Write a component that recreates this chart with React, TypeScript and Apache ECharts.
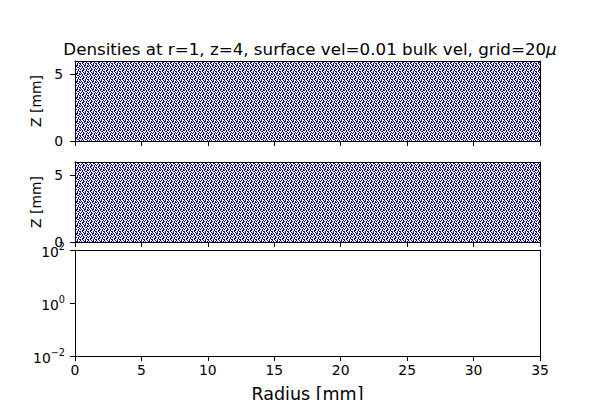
import React, { useEffect, useRef } from 'react';
import * as echarts from 'echarts';

// field extent (radius in mm, Z in mm)
const radiusSpan = [0, 35];
const fieldTop = [6, 6];
const zRange = [0, 6];
const logRange = [0.01, 100];
const radiusTicks = { min: 0, max: 35, interval: 5 };

// dither used to paint the dense vector field (style only)
const DOT_ROWS = [
  '#..#.#..',
  '.#..##.#',
  '#.#.#..#',
  '..#..##.',
  '.#.#...#',
  '#..##.#.',
  '..##..#.',
  '#.#..#.#',
];

const NAVY = '#00008b';
const FONT = 'DejaVu Sans';

function makeDots(): HTMLCanvasElement {
  const c = document.createElement('canvas');
  c.width = DOT_ROWS[0].length;
  c.height = DOT_ROWS.length;
  const ctx = c.getContext('2d')!;
  ctx.fillStyle = '#ffffff';
  ctx.fillRect(0, 0, c.width, c.height);
  ctx.fillStyle = NAVY;
  DOT_ROWS.forEach((row, y) => {
    for (let x = 0; x < row.length; x++) {
      if (row[x] === '#') ctx.fillRect(x, y, 1, 1);
    }
  });
  return c;
}

const supLabel = (v: number) => {
  const e = Math.round(Math.log10(v));
  return `{b|10}{s|${e < 0 ? '\u2212' + Math.abs(e) : e}}`;
};

const App: React.FC = () => {
  const chartRef = useRef<HTMLDivElement | null>(null);

  useEffect(() => {
    const chart = echarts.init(chartRef.current!, undefined, { renderer: 'svg' });
    const dots = makeDots();

    const grids = [
      { left: 75, right: 60, top: 61, height: 80 },
      { left: 75, right: 60, top: 162, height: 80 },
      { left: 75, right: 60, top: 250, height: 106 },
    ];

    const xAxes: any[] = [];
    const yAxes: any[] = [];
    grids.forEach((_, i) => {
      const last = i === 2;
      xAxes.push({
        type: 'value',
        gridIndex: i,
        ...radiusTicks,
        z: 5,
        axisLine: { show: true, onZero: false, lineStyle: { color: '#000', width: 1 } },
        axisTick: { show: true, inside: false, length: 5, lineStyle: { color: '#000' } },
        axisLabel: {
          show: last,
          margin: 7,
          color: '#000',
          fontFamily: FONT,
          fontSize: 13.9,
        },
        splitLine: { show: false },
      });
      xAxes.push({
        type: 'value',
        gridIndex: i,
        position: 'top',
        ...radiusTicks,
        z: 5,
        axisLine: { show: true, onZero: false, lineStyle: { color: '#000', width: 1 } },
        axisTick: { show: false },
        axisLabel: { show: false },
        splitLine: { show: false },
      });
      if (last) {
        yAxes.push({
          type: 'log',
          gridIndex: i,
          logBase: 10,
          min: logRange[0],
          max: logRange[1],
          interval: 2,
          z: 5,
          axisLine: { show: true, onZero: false, lineStyle: { color: '#000', width: 1 } },
          axisTick: { show: true, inside: false, length: 5, lineStyle: { color: '#000' } },
          minorTick: { show: false },
          axisLabel: {
            margin: 10,
            formatter: supLabel,
            rich: {
              b: { fontFamily: FONT, fontSize: 13.9, color: '#000', verticalAlign: 'bottom', lineHeight: 18 },
              s: { fontFamily: FONT, fontSize: 9.7, color: '#000', verticalAlign: 'top', lineHeight: 18 },
            },
          },
          splitLine: { show: false },
        });
      } else {
        yAxes.push({
          type: 'value',
          gridIndex: i,
          min: zRange[0],
          max: zRange[1],
          interval: 5,
          z: 5,
          axisLine: { show: true, onZero: false, lineStyle: { color: '#000', width: 1 } },
          axisTick: { show: true, inside: false, length: 5, lineStyle: { color: '#000' } },
          axisLabel: { margin: 12, color: '#000', fontFamily: FONT, fontSize: 13.9 },
          splitLine: { show: false },
          name: 'Z [mm]',
          nameLocation: 'middle',
          nameGap: 30,
          nameRotate: 90,
          nameTextStyle: { color: '#000', fontFamily: FONT, fontSize: 13.9 },
        });
      }
      yAxes.push({
        type: last ? 'log' : 'value',
        gridIndex: i,
        position: 'right',
        min: last ? logRange[0] : zRange[0],
        max: last ? logRange[1] : zRange[1],
        z: 5,
        axisLine: { show: true, onZero: false, lineStyle: { color: '#000', width: 1 } },
        axisTick: { show: false },
        axisLabel: { show: false },
        splitLine: { show: false },
      });
    });

    const fieldSeries = (i: number) => ({
      type: 'line',
      xAxisIndex: i * 2,
      yAxisIndex: i * 2,
      data: radiusSpan.map((r, k) => [r, fieldTop[k]]),
      showSymbol: false,
      silent: true,
      z: 1,
      lineStyle: { width: 0 },
      areaStyle: { origin: 'start', opacity: 1, color: { image: dots, repeat: 'repeat' } as any },
    });

    const option: any = {
      animation: false,
      backgroundColor: '#fff',
      title: {
        text: 'Densities at r=1, z=4, surface vel=0.01 bulk vel, grid=20{i|\u03bc}',
        left: 305,
        top: 35,
        textAlign: 'center',
        textStyle: {
          color: '#000',
          fontFamily: FONT,
          fontSize: 16.7,
          fontWeight: 'normal',
          rich: { i: { fontFamily: FONT, fontSize: 16.7, fontStyle: 'italic', color: '#000' } },
        },
      },
      graphic: [
        {
          type: 'text',
          x: 307.5,
          y: 394,
          style: {
            text: 'Radius [mm]',
            fill: '#000',
            font: `17.5px "${FONT}"`,
            align: 'center',
            verticalAlign: 'middle',
          },
        },
      ],
      grid: grids,
      xAxis: xAxes,
      yAxis: yAxes,
      series: [fieldSeries(0), fieldSeries(1)],
    };

    chart.setOption(option);

    return () => {
      chart.dispose();
    };
  }, []);

  return (
    <div
      ref={chartRef}
      style={{ position: 'fixed', left: 0, top: 0, width: '600px', height: '400px' }}
    />
  );
};

export default App;
